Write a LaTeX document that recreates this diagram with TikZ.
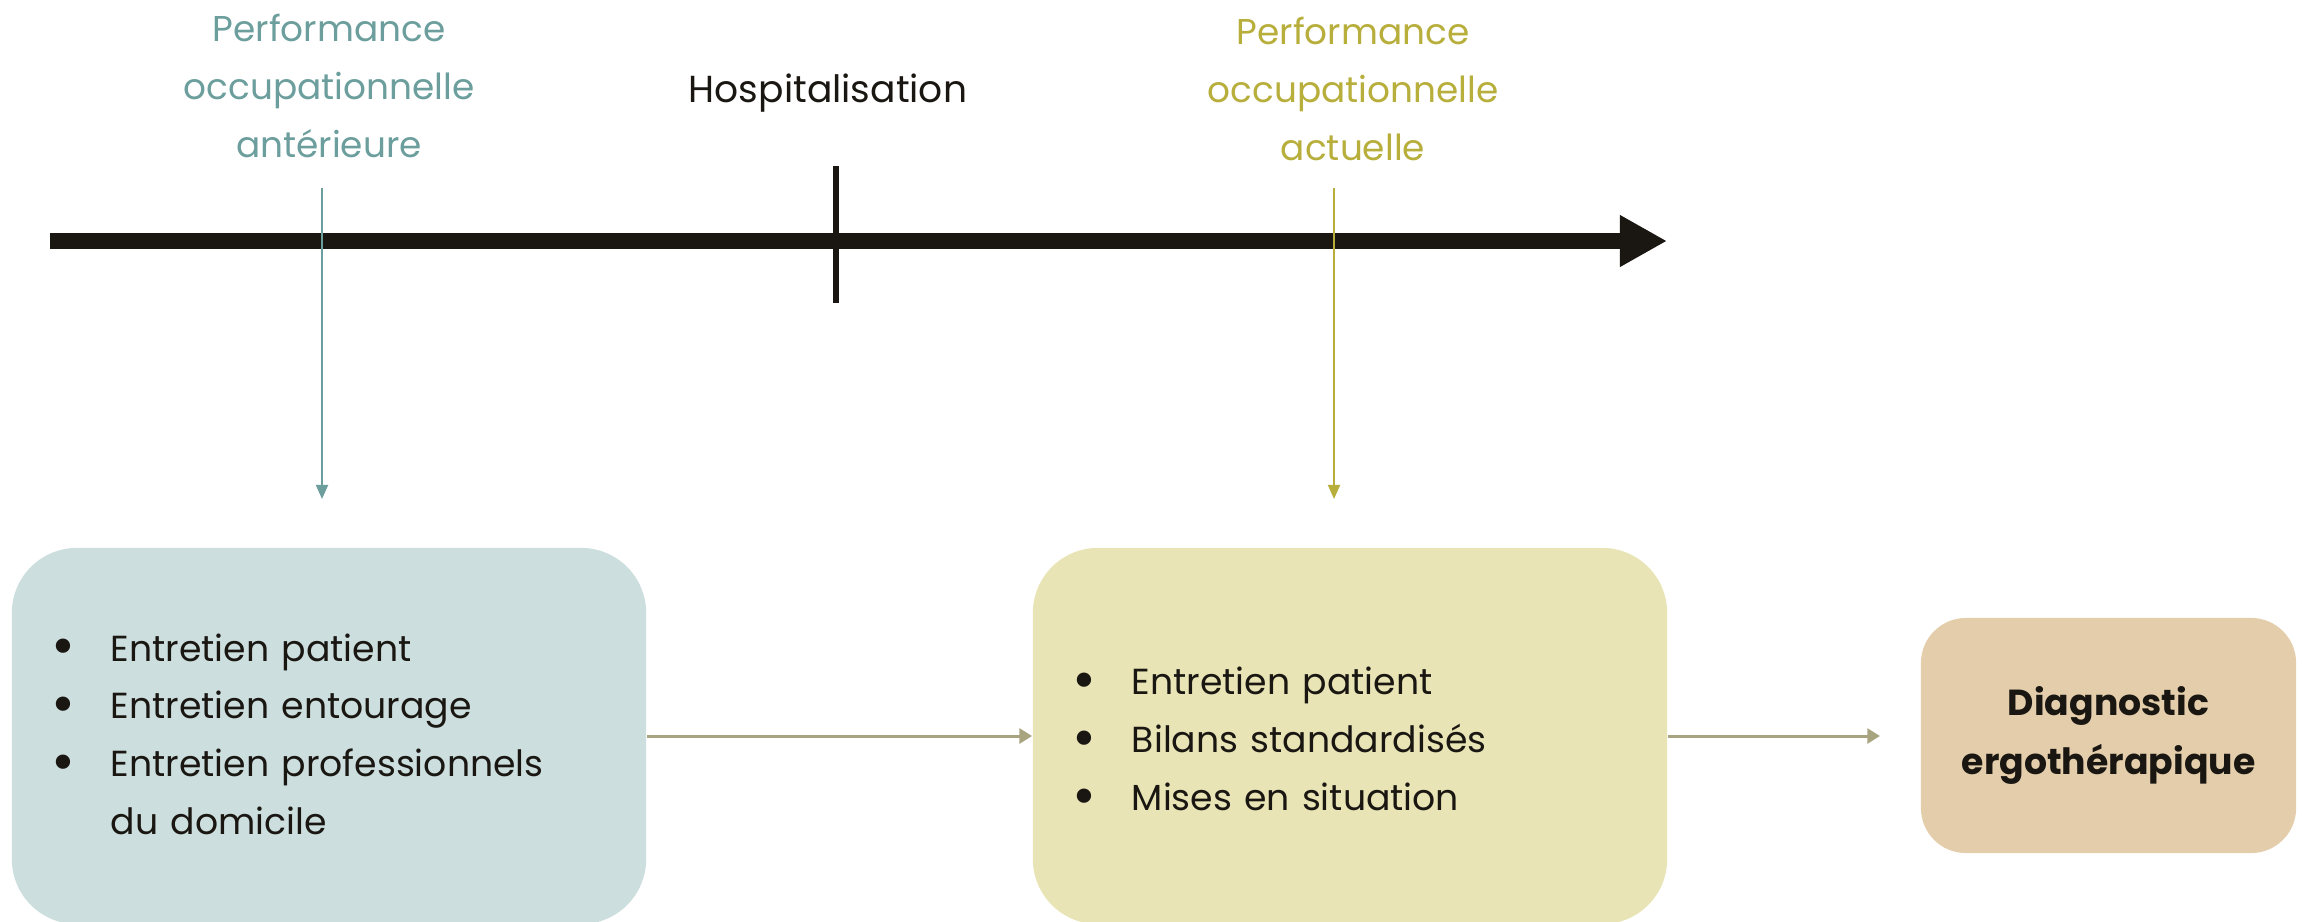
\documentclass[tikz,border=0pt]{standalone}
\usepackage{graphicx}
\usepackage{fontspec}
\setmainfont{Poppins}
\usetikzlibrary{arrows.meta}
\definecolor{tealtxt}{HTML}{6B9E9C}
\definecolor{olivetxt}{HTML}{B7AE3C}
\definecolor{darktxt}{HTML}{1A1713}
\definecolor{boxA}{HTML}{CCDFDE}
\definecolor{boxB}{HTML}{E8E4B5}
\definecolor{boxC}{HTML}{E4CDAB}
\definecolor{flowgray}{HTML}{A8A47F}
\tikzset{
  lbl/.style={align=center, font=\fontsize{10.2pt}{16.4pt}\selectfont, inner sep=0pt},
  stepbox/.style={rounded corners=0.65cm, inner xsep=0.4cm, inner ysep=0pt, text=darktxt,
    font=\fontsize{10.3pt}{16.4pt}\selectfont},
  flow/.style={draw=flowgray, line width=0.85pt, -{Triangle[length=3.6pt,width=4.2pt]}},
  pointer/.style={line width=0.6pt, -{Triangle[length=4pt,width=3.4pt]}},
}
\newcommand{\bul}{\makebox[0.59cm][l]{\raisebox{-0.25ex}{\scalebox{1.6}{\textbullet}}}}
\begin{document}
\begin{tikzpicture}[x=0.01cm,y=-0.01cm]
\useasboundingbox (0,0) rectangle (2303,921);
\clip (0,0) rectangle (2303,921);
% timeline
\coordinate (tstart) at (50,241);
\coordinate (tend) at (1667,241);
\coordinate (hosptop) at (836,166);
\coordinate (hospbot) at (836,303);
\draw[darktxt, line width=4.3pt, -{Triangle[length=13.4pt,width=13.8pt]}] (tstart) -- (tend);
\draw[darktxt, line width=1.7pt] (hosptop) -- (hospbot);
% labels
\node[lbl, text=tealtxt] (lblA) at (329,86) {Performance\\occupationnelle\\antérieure};
\node[lbl, text=darktxt, font=\fontsize{10.7pt}{16.4pt}\selectfont] (lblH) at (828,93) {Hospitalisation};
\node[lbl, text=olivetxt] (lblB) at (1353,89) {Performance\\occupationnelle\\actuelle};
% pointers
\coordinate (pAtop) at (322,188);
\coordinate (pAbot) at (322,499);
\coordinate (pBtop) at (1334,188);
\coordinate (pBbot) at (1334,499);
\draw[pointer, tealtxt] (pAtop) -- (pAbot);
\draw[pointer, olivetxt] (pBtop) -- (pBbot);
% boxes
\node[stepbox, fill=boxA, minimum width=6.34cm, minimum height=3.76cm, text width=5.54cm, align=left] (box1) at (329,736)
  {\renewcommand{\arraystretch}{1}\begin{tabular}{@{}l@{}l@{}}
   \bul & Entretien patient\\
   \bul & Entretien entourage\\
   \bul & Entretien professionnels\\
        & du domicile
   \end{tabular}};
\node[stepbox, fill=boxB, minimum width=6.34cm, minimum height=3.76cm, text width=5.54cm, align=left] (box2) at (1350,736)
  {\renewcommand{\arraystretch}{1}\raisebox{-0.05cm}[\height][\depth]{\begin{tabular}{@{}l@{}l@{}}
   \bul & Entretien patient\\
   \bul & Bilans standardisés\\
   \bul & Mises en situation
   \end{tabular}}};
\node[stepbox, fill=boxC, rounded corners=0.45cm, minimum width=3.75cm, minimum height=2.35cm, align=center, font=\fontsize{10.3pt}{16.8pt}\selectfont\bfseries] (box3) at (2108.5,735.5)
  {Diagnostic\\ergothérapique};
% flow arrows
\coordinate (a2end) at (1880,736);
\draw[flow] (box1.east) -- (box2.west);
\draw[flow] (box2.east) -- (a2end);
\end{tikzpicture}
\end{document}
